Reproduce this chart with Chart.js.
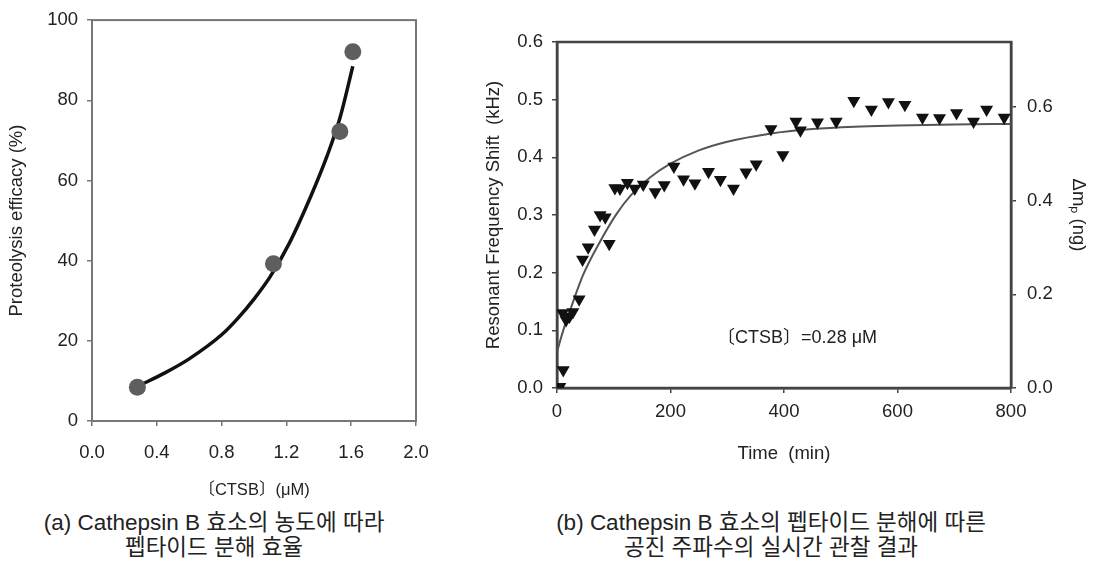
<!DOCTYPE html>
<html>
<head>
<meta charset="utf-8">
<script src="https://cdn.jsdelivr.net/npm/chart.js@4.4.1/dist/chart.umd.min.js"></script>
<style>
  html, body { margin: 0; padding: 0; background: #fff; }
  body { width: 1098px; height: 568px; position: relative; overflow: hidden; }
  .box { position: absolute; top: 0; height: 500px; }
  #boxA { left: 0; width: 450px; }
  #boxB { left: 450px; width: 648px; }
  .caption {
    position: absolute; top: 510px; width: 500px; text-align: center;
    font-family: "Liberation Sans", "Noto Sans CJK KR", sans-serif;
    font-size: 22.5px; line-height: 25px; color: #222;
  }
</style>
</head>
<body>
<div class="box" id="boxA"><canvas id="chartA"></canvas></div>
<div class="box" id="boxB"><canvas id="chartB"></canvas></div>
<div class="caption" style="left:-36px;">(a) Cathepsin B 효소의 농도에 따라<br>펩타이드 분해 효율</div>
<div class="caption" style="left:521px;">(b) Cathepsin B 효소의 펩타이드 분해에 따른<br>공진 주파수의 실시간 관찰 결과</div>
<script>
// (a) proteolysis efficacy vs CTSB concentration
const ctsbConc = [0.28, 1.12, 1.53, 1.61];
const efficacy = [8.4, 39.2, 72.2, 92.1];
const fitConc = [0.30, 0.45, 0.60, 0.80, 0.90, 1.00, 1.10, 1.22, 1.35, 1.45, 1.53, 1.61];
const fitEfficacy = [9.0, 12.0, 15.5, 21.5, 25.6, 30.4, 36.0, 44.5, 56.0, 66.0, 75.5, 88.5];
const concTicks = [0.0, 0.4, 0.8, 1.2, 1.6, 2.0];
const efficacyTicks = [0, 20, 40, 60, 80, 100];

// (b) resonant frequency shift vs time
const timeMin = [5, 11, 10, 16, 22, 28, 39, 45, 55, 66, 76, 85, 92, 102, 111, 124, 137, 152,
  173, 189, 206, 223, 243, 267, 288, 311, 333, 351, 377, 398, 421, 429, 459, 492, 523, 554,
  584, 613, 644, 674, 704, 734, 757, 788];
const freqShift = [0.002, 0.031, 0.130, 0.118, 0.124, 0.132, 0.154, 0.223, 0.244, 0.275, 0.300,
  0.296, 0.250, 0.347, 0.346, 0.356, 0.346, 0.353, 0.340, 0.352, 0.384, 0.362, 0.355, 0.375,
  0.361, 0.346, 0.374, 0.388, 0.449, 0.404, 0.462, 0.447, 0.461, 0.462, 0.498, 0.483, 0.496,
  0.491, 0.469, 0.468, 0.477, 0.462, 0.483, 0.469];
const fitTime = [0, 12, 25, 46, 76, 105, 130, 165, 200, 250, 300, 375, 450, 525, 600, 700, 800];
const fitShift = [0.063, 0.103, 0.140, 0.196, 0.254, 0.302, 0.334, 0.366, 0.389, 0.412, 0.427,
  0.441, 0.449, 0.453, 0.455, 0.457, 0.458];
const timeTicks = [0, 200, 400, 600, 800];
const shiftTicks = [0.0, 0.1, 0.2, 0.3, 0.4, 0.5, 0.6];
const massTicks = [0.0, 0.2, 0.4, 0.6];

const tickFont = { family: "Liberation Sans", size: 18.5 };
const titleFont = { family: "Liberation Sans, Noto Sans CJK KR", size: 18.5 };

const toPoints = (xs, ys) => xs.map((x, i) => ({ x: x, y: ys[i] }));
const setTicks = (list) => (scale) => { scale.ticks = list.map((v) => ({ value: v })); };

// box around the plotting area
const frame = {
  id: "frame",
  beforeDatasetsDraw(chart, args, opts) {
    const { ctx, chartArea: a } = chart;
    ctx.save();
    ctx.strokeStyle = opts.color;
    ctx.lineWidth = opts.width;
    ctx.strokeRect(a.left, a.top, a.right - a.left, a.bottom - a.top);
    ctx.restore();
  },
};

// text label placed at a data position
const note = {
  id: "note",
  afterDatasetsDraw(chart, args, opts) {
    if (!opts.text) return;
    const { ctx } = chart;
    const x = chart.scales.x.getPixelForValue(opts.x);
    const y = chart.scales.y.getPixelForValue(opts.y);
    ctx.save();
    ctx.font = "18px 'Liberation Sans', 'Noto Sans CJK KR'";
    ctx.fillStyle = "#222";
    ctx.textAlign = "center";
    ctx.textBaseline = "middle";
    ctx.fillText(opts.text, x, y);
    ctx.restore();
  },
};

const axisStyle = (color, width) => ({
  border: { display: true, color: color, width: width },
  grid: { drawOnChartArea: false, drawTicks: true, tickLength: 5, color: color, lineWidth: 1.5 },
});

new Chart(document.getElementById("chartA"), {
  type: "scatter",
  data: {
    datasets: [
      {
        data: toPoints(ctsbConc, efficacy),
        pointRadius: 8.5,
        pointBackgroundColor: "#5e5e5e",
        pointBorderColor: "#5e5e5e",
        pointBorderWidth: 0,
      },
      {
        data: toPoints(fitConc, fitEfficacy),
        showLine: true,
        pointRadius: 0,
        borderColor: "#111",
        borderWidth: 3.5,
        cubicInterpolationMode: "monotone",
      },
    ],
  },
  plugins: [frame],
  options: {
    responsive: true,
    maintainAspectRatio: false,
    animation: false,
    layout: { padding: { top: 15, right: 34, left: 0, bottom: 0 } },
    scales: {
      x: {
        min: 0, max: 2,
        afterBuildTicks: setTicks(concTicks),
        afterFit: (s) => { s.height = 79; },
        ...axisStyle("#777", 2),
        ticks: { font: tickFont, color: "#222", padding: 16, maxRotation: 0,
          callback: (v) => Number(v).toFixed(1) },
        title: { display: true, text: "〔CTSB〕(μM)", font: { ...titleFont, size: 16.5 }, color: "#222",
          padding: { top: 0, bottom: 0 } },
      },
      y: {
        min: 0, max: 100,
        afterBuildTicks: setTicks(efficacyTicks),
        afterFit: (s) => { s.width = 92; },
        ...axisStyle("#777", 2),
        ticks: { font: tickFont, color: "#222", padding: 9 },
        title: { display: true, text: "Proteolysis efficacy (%)", font: titleFont, color: "#222",
          padding: { top: 6, bottom: 0 } },
      },
    },
    plugins: {
      legend: { display: false },
      tooltip: { enabled: false },
      frame: { color: "#777", width: 2 },
    },
  },
});

new Chart(document.getElementById("chartB"), {
  type: "scatter",
  data: {
    datasets: [
      {
        data: toPoints(timeMin, freqShift),
        pointStyle: "triangle",
        rotation: 180,
        pointRadius: 7.5,
        pointBackgroundColor: "#111",
        pointBorderColor: "#111",
        pointBorderWidth: 0,
      },
      {
        data: toPoints(fitTime, fitShift),
        showLine: true,
        pointRadius: 0,
        borderColor: "#555",
        borderWidth: 2,
        cubicInterpolationMode: "monotone",
      },
    ],
  },
  plugins: [frame, note],
  options: {
    responsive: true,
    maintainAspectRatio: false,
    animation: false,
    layout: { padding: { top: 42, right: 0, left: 0, bottom: 0 } },
    scales: {
      x: {
        min: 0, max: 800,
        afterBuildTicks: setTicks(timeTicks),
        afterFit: (s) => { s.height = 112; },
        ...axisStyle("#444", 2.5),
        ticks: { font: tickFont, color: "#222", padding: 8, maxRotation: 0 },
        title: { display: true, text: "Time  (min)", font: titleFont, color: "#222",
          padding: { top: 0, bottom: 35 } },
      },
      y: {
        position: "left",
        min: 0, max: 0.6,
        afterBuildTicks: setTicks(shiftTicks),
        afterFit: (s) => { s.width = 107; },
        ...axisStyle("#444", 2.5),
        ticks: { font: tickFont, color: "#222", padding: 9, callback: (v) => Number(v).toFixed(1) },
        title: { display: true, text: "Resonant Frequency Shift  (kHz)", font: titleFont, color: "#222",
          padding: { top: 33, bottom: 0 } },
      },
      y1: {
        position: "right",
        min: 0, max: 0.739,
        afterBuildTicks: setTicks(massTicks),
        afterFit: (s) => { s.width = 87; },
        ...axisStyle("#444", 2.5),
        ticks: { font: tickFont, color: "#222", padding: 11, callback: (v) => Number(v).toFixed(1) },
        title: { display: true, text: "Δmₚ (ng)", font: titleFont, color: "#222",
          padding: { top: 9, bottom: 0 } },
      },
    },
    plugins: {
      legend: { display: false },
      tooltip: { enabled: false },
      frame: { color: "#444", width: 2.5 },
      note: { text: "〔CTSB〕=0.28 μM", x: 423, y: 0.087 },
    },
  },
});
</script>
</body>
</html>
